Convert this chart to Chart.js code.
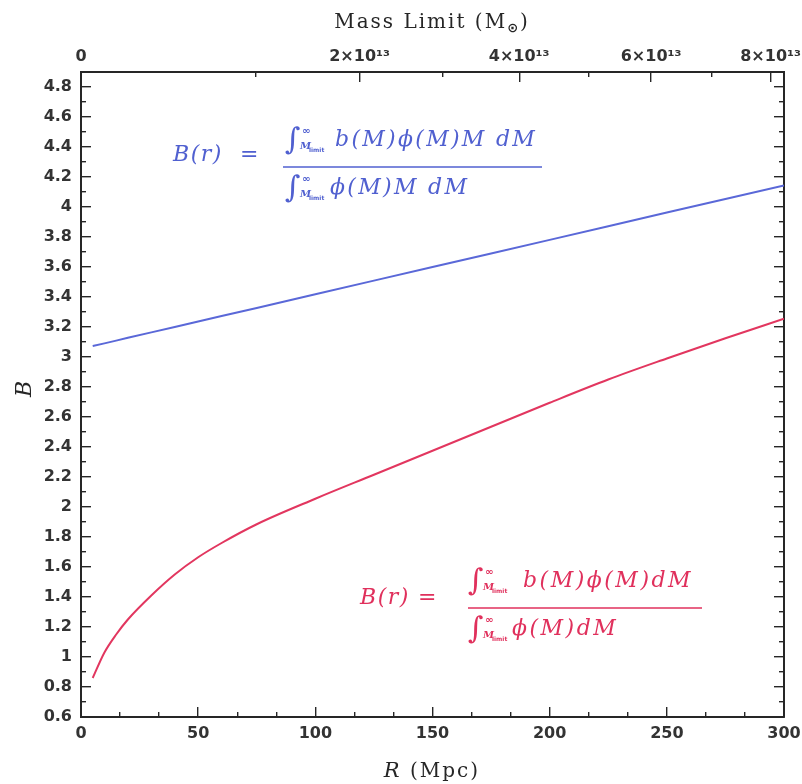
<!DOCTYPE html>
<html>
<head>
<meta charset="utf-8">
<script src="https://cdn.jsdelivr.net/npm/chart.js@4.4.1/dist/chart.umd.min.js"></script>
<style>
  html, body { margin: 0; padding: 0; background: #fff; }
</style>
</head>
<body>
<canvas id="myChart" width="802" height="784"></canvas>
<script>
const radius = [5, 10, 15, 20, 30, 40, 50, 60, 75, 100, 125, 150, 175, 200, 225, 250, 275, 300];
// blue: mass weighted bias (close to a straight line)
const biasMassWeighted = [3.073, 3.091, 3.109, 3.128, 3.164, 3.200, 3.237, 3.273, 3.327, 3.418, 3.509, 3.600, 3.690, 3.781, 3.872, 3.963, 4.053, 4.144];
// red: number weighted bias
const biasNumberWeighted = [0.86, 1.03, 1.15, 1.25, 1.41, 1.55, 1.665, 1.76, 1.885, 2.055, 2.215, 2.375, 2.535, 2.695, 2.85, 2.99, 3.125, 3.255];

// axis ticks
const rTicks = [0, 50, 100, 150, 200, 250, 300];
const rMinorTicks = [16.67, 33.33, 66.67, 83.33, 116.67, 133.33, 166.67, 183.33, 216.67, 233.33, 266.67, 283.33];
const bTicks = [0.6, 0.8, 1, 1.2, 1.4, 1.6, 1.8, 2, 2.2, 2.4, 2.6, 2.8, 3, 3.2, 3.4, 3.6, 3.8, 4, 4.2, 4.4, 4.6, 4.8];
const bMinorTicks = [0.7, 0.9, 1.1, 1.3, 1.5, 1.7, 1.9, 2.1, 2.3, 2.5, 2.7, 2.9, 3.1, 3.3, 3.5, 3.7, 3.9, 4.1, 4.3, 4.5, 4.7];
// top axis: mass limit ticks sit at these radii
const massTickR = [0, 118.9, 187.0, 243.3, 294.3];
const massTickLabels = ['0', '2×10¹³', '4×10¹³', '6×10¹³', '8×10¹³'];
const massMinorR = [74.5, 154.2, 216.5, 269.1];

const ink = '#262626';
const blue = '#5a68d8';
const red = '#e2365f';
const tickFont = { family: 'DejaVu Sans', size: 16, weight: 'bold' };

// one axis per side for major ticks (labels) and one for minor ticks; ticks point inward
function edgeAxis(position, min, max, values, len, size, opts) {
  opts = opts || {};
  const horizontal = position === 'top' || position === 'bottom';
  return {
    type: 'linear',
    axis: horizontal ? 'x' : 'y',
    position: position,
    min: min,
    max: max,
    weight: opts.major ? 1 : 0,
    afterBuildTicks: s => { s.ticks = values.map(v => ({ value: v })); },
    afterFit: s => {
      if (horizontal) s.height = size; else s.width = size;
      // labels may hang over the edges, don't let them shrink the plot
      s.paddingLeft = s.paddingRight = s.paddingTop = s.paddingBottom = 0;
    },
    grid: { drawOnChartArea: false, drawTicks: true, tickLength: -len, color: ink, lineWidth: 1.4 },
    border: { display: !!opts.major, color: ink, width: 2 },
    ticks: {
      display: !!opts.labels,
      autoSkip: false,
      maxRotation: 0,
      padding: opts.padding || 0,
      color: '#333',
      font: tickFont,
      callback: opts.labels || (() => '')
    }
  };
}

function runs(ctx, x, y, parts, align) {
  let w = 0;
  parts.forEach(p => { ctx.font = p.font; w += ctx.measureText(p.t).width; });
  let cx = align === 'center' ? x - w / 2 : x;
  parts.forEach(p => {
    ctx.font = p.font;
    ctx.fillText(p.t, cx, y + (p.dy || 0));
    cx += ctx.measureText(p.t).width;
  });
}

function integral(ctx, x, y) {
  ctx.letterSpacing = '0px';
  ctx.font = 'italic 30px "DejaVu Serif"';
  ctx.fillText('∫', x - 2, y + 3);
  ctx.font = 'bold 10px "DejaVu Sans"';
  ctx.fillText('∞', x + 15, y - 12);
  ctx.font = 'italic bold 10px "DejaVu Serif"';
  ctx.fillText('M', x + 13, y + 3);
  ctx.font = 'bold 6px "DejaVu Sans"';
  ctx.fillText('limit', x + 22, y + 6);
}

function formula(ctx, f) {
  const big = 'italic 22px "DejaVu Serif"';
  ctx.fillStyle = f.color;
  ctx.strokeStyle = f.color;
  ctx.letterSpacing = '1.5px';
  ctx.font = big;
  ctx.fillText('B(r)', f.x, f.y);
  ctx.font = '22px "DejaVu Serif"';
  ctx.textAlign = 'center';
  ctx.fillText('=', f.eqX, f.y);
  ctx.textAlign = 'left';
  ctx.lineWidth = 1.5;
  ctx.beginPath();
  ctx.moveTo(f.line[0], f.lineY);
  ctx.lineTo(f.line[1], f.lineY);
  ctx.stroke();
  integral(ctx, f.intX, f.lineY - 21);
  integral(ctx, f.intX, f.lineY + 27);
  ctx.letterSpacing = f.spacing;
  ctx.font = big;
  ctx.fillText(f.num, f.numX, f.lineY - 21);
  ctx.fillText(f.den, f.denX, f.lineY + 27);
}

const annotate = {
  id: 'annotate',
  afterDraw(chart) {
    const ctx = chart.ctx;
    ctx.save();
    ctx.fillStyle = ink;
    ctx.textBaseline = 'alphabetic';
    ctx.letterSpacing = '2px';
    runs(ctx, 432, 28, [
      { t: 'Mass Limit (M', font: '20px "DejaVu Serif"' },
      { t: '⊙', font: 'bold 13px "DejaVu Sans"', dy: 4 },
      { t: ')', font: '20px "DejaVu Serif"' }
    ], 'center');
    runs(ctx, 432, 777, [
      { t: 'R', font: 'italic 21px "DejaVu Serif"' },
      { t: ' (Mpc)', font: '20px "DejaVu Serif"' }
    ], 'center');
    ctx.save();
    ctx.translate(31, 388);
    ctx.rotate(-Math.PI / 2);
    runs(ctx, 0, 0, [{ t: 'B', font: 'italic 22px "DejaVu Serif"' }], 'center');
    ctx.restore();

    formula(ctx, { color: '#5060d0', x: 173, y: 161, eqX: 250, line: [283, 542], lineY: 167,
      intX: 287, numX: 335, denX: 330, num: 'b(M)ϕ(M)M dM', den: 'ϕ(M)M dM', spacing: '2.3px' });
    formula(ctx, { color: '#e0305c', x: 360, y: 604, eqX: 428, line: [468, 702], lineY: 608,
      intX: 470, numX: 523, denX: 512, num: 'b(M)ϕ(M)dM', den: 'ϕ(M)dM', spacing: '2.5px' });
    ctx.restore();
  }
};

const ctx = document.getElementById('myChart').getContext('2d');
const myChart = new Chart(ctx, {
  type: 'line',
  data: {
    datasets: [{
      label: 'mass weighted',
      data: radius.map((r, i) => ({ x: r, y: biasMassWeighted[i] })),
      borderColor: blue,
      borderWidth: 2,
      pointRadius: 0,
      fill: false,
      tension: 0,
      xAxisID: 'x',
      yAxisID: 'y'
    }, {
      label: 'number weighted',
      data: radius.map((r, i) => ({ x: r, y: biasNumberWeighted[i] })),
      borderColor: red,
      borderWidth: 2,
      pointRadius: 0,
      fill: false,
      cubicInterpolationMode: 'monotone',
      xAxisID: 'x',
      yAxisID: 'y'
    }]
  },
  options: {
    responsive: false,
    animation: false,
    layout: { padding: 0 },
    plugins: { legend: { display: false }, tooltip: { enabled: false } },
    scales: {
      x: edgeAxis('bottom', 0, 300, rTicks, 10, 67, { major: true, padding: 17, labels: v => String(v) }),
      xMinor: edgeAxis('bottom', 0, 300, rMinorTicks, 5, 0),
      xTop: edgeAxis('top', 0, 300, massTickR, 10, 72, { major: true, padding: 16, labels: (v, i) => massTickLabels[i] }),
      xTopMinor: edgeAxis('top', 0, 300, massMinorR, 5, 0),
      y: edgeAxis('left', 0.6, 4.9, bTicks, 10, 81, { major: true, padding: 19, labels: v => String(Math.round(v * 10) / 10) }),
      yMinor: edgeAxis('left', 0.6, 4.9, bMinorTicks, 5, 0),
      yRight: edgeAxis('right', 0.6, 4.9, bTicks, 10, 18, { major: true }),
      yRightMinor: edgeAxis('right', 0.6, 4.9, bMinorTicks, 5, 0)
    }
  },
  plugins: [annotate]
});
</script>
</body>
</html>
